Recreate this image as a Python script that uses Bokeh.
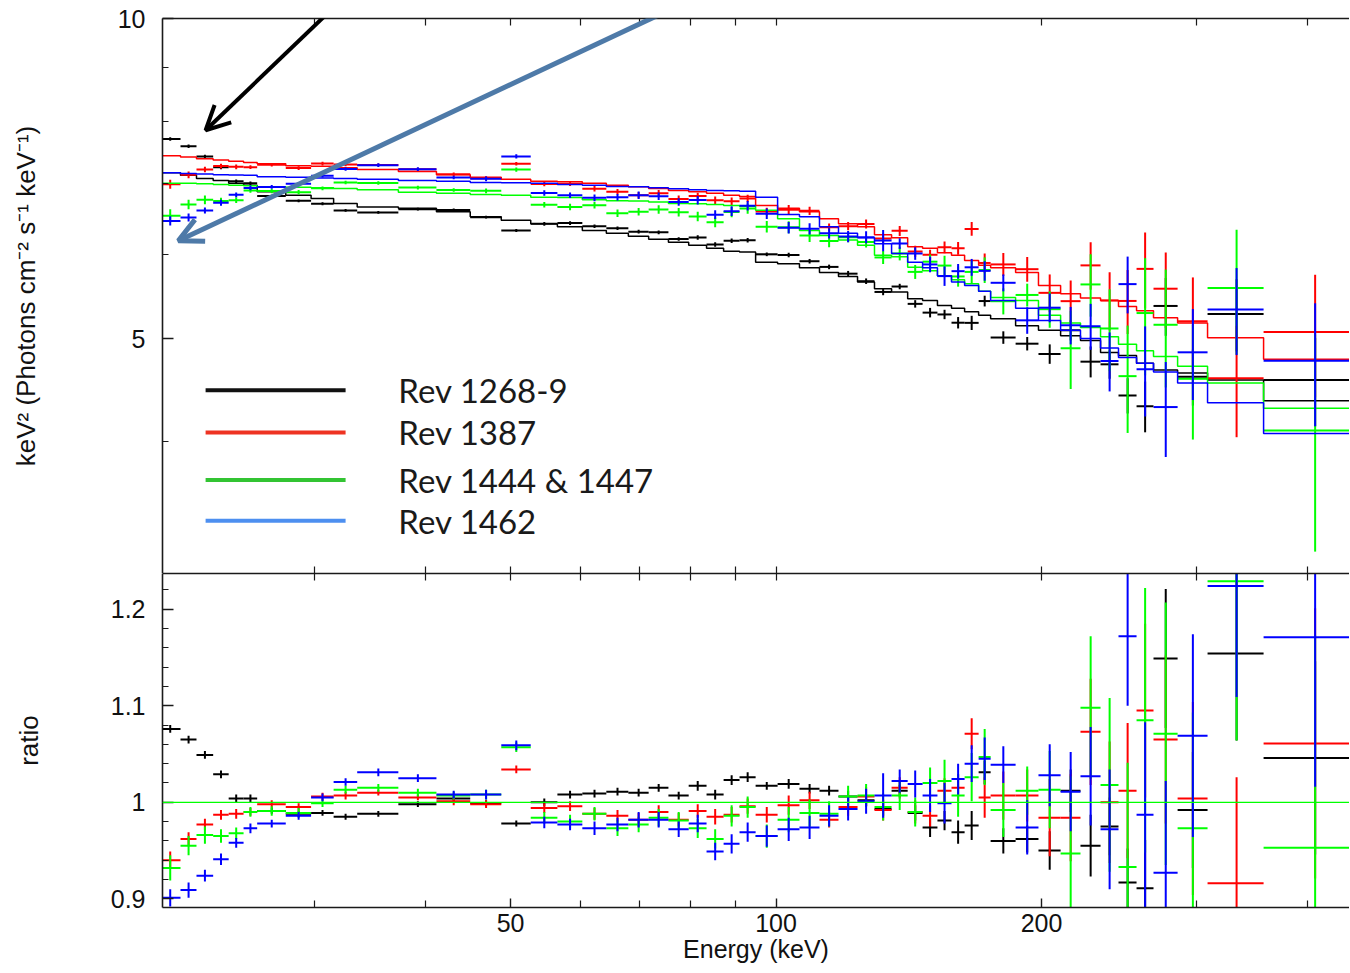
import numpy as np
from bokeh.plotting import figure
from bokeh.layouts import column
from bokeh.models import (Range1d, FixedTicker, LogAxis, LinearAxis, Arrow, OpenHead,
                          Label, Span, ColumnDataSource, BasicTickFormatter)
from bokeh.embed import file_html
from bokeh.resources import INLINE

# ---------------- data ----------------
edges = [20.0, 21.12, 22.02, 23.0, 23.95, 24.9, 25.8, 27.8, 29.7, 31.5, 33.5, 37.3, 41.2,
         45.0, 48.8, 52.7, 56.5, 60.3, 64.2, 68.0, 71.7, 75.5, 79.6, 83.4, 87.2, 90.9,
         94.8, 100.4, 106.3, 112.0, 117.7, 123.7, 129.3, 135.2, 141.0, 146.6, 152.4,
         158.1, 163.6, 169.7, 175.1, 186.9, 198.4, 210.2, 221.4, 233.3, 244.5, 256.3,
         267.9, 285.3, 308.5, 357.1, 460.0]

black_model = [7.16, 7.12, 7.07, 7.04, 7.00, 6.97, 6.87, 6.82, 6.77, 6.70,
               6.65, 6.63, 6.58, 6.51, 6.46, 6.41, 6.37, 6.32, 6.28, 6.24,
               6.20, 6.16, 6.12, 6.08, 6.04, 6.03, 5.90, 5.88, 5.83, 5.77,
               5.72, 5.65, 5.57, 5.53, 5.45, 5.43, 5.37, 5.34, 5.30, 5.26,
               5.22, 5.14, 5.09, 5.03, 4.98, 4.85, 4.82, 4.74, 4.67, 4.64,
               4.57, 4.37]
red_model = [7.43, 7.41, 7.38, 7.36, 7.34, 7.32, 7.30, 7.27, 7.26, 7.24,
             7.21, 7.18, 7.13, 7.09, 7.06, 7.03, 7.02, 7.00, 6.97, 6.945,
             6.92, 6.89, 6.87, 6.85, 6.82, 6.80, 6.67, 6.63, 6.58, 6.48,
             6.41, 6.37, 6.26, 6.22, 6.10, 6.08, 6.02, 5.99, 5.92, 5.86,
             5.83, 5.77, 5.61, 5.51, 5.46, 5.43, 5.36, 5.31, 5.23, 5.17,
             5.01, 4.78]
green_model = [7.00, 7.00, 6.99, 6.98, 6.97, 6.96, 6.945, 6.94, 6.93, 6.92,
               6.90, 6.865, 6.85, 6.83, 6.82, 6.79, 6.785, 6.755, 6.74, 6.735,
               6.72, 6.70, 6.695, 6.685, 6.67, 6.66, 6.60, 6.48, 6.32, 6.25,
               6.19, 6.12, 5.99, 5.97, 5.835, 5.79, 5.73, 5.68, 5.63, 5.54,
               5.465, 5.43, 5.26, 5.17, 5.12, 5.02, 4.94, 4.87, 4.81, 4.71,
               4.54, 4.30]
blue_model = [7.16, 7.15, 7.14, 7.13, 7.125, 7.12, 7.10, 7.09, 7.08, 7.07,
              7.06, 7.04, 7.03, 7.01, 7.005, 7.00, 6.98, 6.97, 6.95, 6.945,
              6.93, 6.915, 6.90, 6.89, 6.885, 6.88, 6.79, 6.54, 6.51, 6.37,
              6.28, 6.22, 6.14, 6.01, 5.90, 5.83, 5.73, 5.65, 5.61, 5.54,
              5.43, 5.34, 5.20, 5.09, 5.00, 4.90, 4.80, 4.74, 4.65, 4.54,
              4.35, 4.07]

black_ratio = [1.076, 1.065, 1.049, 1.029, 1.004, 1.004, 0.991, 0.988, 0.989, 0.985,
               0.988, 0.998, 1.004, 0.999, 0.978, 1.000, 1.008, 1.009, 1.011, 1.010,
               1.015, 1.007, 1.017, 1.008, 1.023, 1.026, 1.017, 1.019, 1.014, 1.012,
               1.006, 1.002, 0.993, 1.012, 0.989, 0.974, 0.981, 0.969, 0.976, 1.031,
               0.960, 0.962, 0.950, 1.012, 0.955, 0.975, 0.917, 0.911, 1.149, 0.992,
               1.154, 1.046]
red_ratio = [0.940, 0.962, 0.977, 0.987, 0.988, 0.990, 0.998, 0.995, 1.006, 1.007,
             1.010, 1.005, 1.001, 0.998, 1.034, 0.994, 0.996, 0.988, 0.986, 0.982,
             0.990, 0.982, 0.991, 0.985, 0.987, 0.996, 0.987, 0.997, 1.002, 0.982,
             0.995, 1.006, 0.992, 1.015, 0.990, 0.986, 1.012, 1.015, 1.071, 1.005,
             1.007, 1.007, 0.984, 0.984, 1.073, 1.000, 1.012, 1.095, 1.065, 1.004,
             0.916, 1.061]
green_ratio = [0.932, 0.955, 0.966, 0.965, 0.968, 0.990, 0.991, 0.989, 0.999, 1.013,
               1.015, 1.010, 1.007, 1.008, 1.057, 0.984, 0.980, 0.988, 0.973, 0.977,
               0.984, 0.981, 0.973, 0.962, 0.986, 0.995, 0.965, 0.982, 0.989, 0.988,
               1.006, 1.007, 0.995, 1.007, 0.990, 1.020, 1.022, 1.007, 1.026, 1.047,
               0.992, 1.012, 1.013, 0.947, 1.098, 1.018, 0.933, 1.085, 1.071, 0.973,
               1.229, 0.953]
blue_ratio = [0.901, 0.909, 0.924, 0.941, 0.958, 0.973, 0.978, 0.986, 1.005, 1.021,
              1.031, 1.025, 1.008, 1.008, 1.059, 0.979, 0.977, 0.973, 0.977, 0.982,
              0.982, 0.972, 0.978, 0.949, 0.957, 0.969, 0.965, 0.972, 0.974, 0.986,
              0.993, 1.001, 1.007, 1.022, 1.019, 1.007, 0.999, 1.024, 1.040, 1.045,
              1.039, 0.974, 1.028, 1.011, 1.027, 0.972, 1.172, 0.987, 0.927, 1.069,
              1.224, 1.171]

black_err = [0.004, 0.004, 0.004, 0.004, 0.004, 0.004, 0.003, 0.003, 0.003, 0.003,
             0.003, 0.003, 0.003, 0.003, 0.003, 0.004, 0.004, 0.004, 0.004, 0.004,
             0.004, 0.004, 0.005, 0.005, 0.005, 0.005, 0.004, 0.005, 0.005, 0.005,
             0.006, 0.006, 0.007, 0.006, 0.008, 0.010, 0.010, 0.012, 0.015, 0.012,
             0.013, 0.014, 0.020, 0.022, 0.032, 0.030, 0.035, 0.050, 0.072, 0.060,
             0.090, 0.100]
red_err = [0.009, 0.007, 0.006, 0.005, 0.005, 0.004, 0.004, 0.004, 0.004, 0.004,
           0.003, 0.003, 0.004, 0.004, 0.004, 0.005, 0.005, 0.006, 0.006, 0.007,
           0.007, 0.007, 0.007, 0.008, 0.008, 0.008, 0.008, 0.010, 0.009, 0.008,
           0.009, 0.010, 0.011, 0.011, 0.012, 0.011, 0.013, 0.014, 0.016, 0.021,
           0.025, 0.027, 0.040, 0.045, 0.055, 0.063, 0.070, 0.090, 0.087, 0.100,
           0.110, 0.140]
green_err = [0.013, 0.010, 0.009, 0.007, 0.006, 0.005, 0.005, 0.005, 0.004, 0.004,
             0.004, 0.004, 0.004, 0.005, 0.005, 0.006, 0.007, 0.007, 0.008, 0.008,
             0.009, 0.009, 0.010, 0.010, 0.011, 0.011, 0.012, 0.013, 0.014, 0.013,
             0.011, 0.012, 0.014, 0.015, 0.015, 0.016, 0.022, 0.022, 0.025, 0.029,
             0.028, 0.025, 0.040, 0.080, 0.074, 0.090, 0.108, 0.137, 0.136, 0.120,
             0.165, 0.220]
blue_err = [0.009, 0.008, 0.006, 0.006, 0.005, 0.005, 0.004, 0.004, 0.004, 0.004,
            0.004, 0.004, 0.004, 0.005, 0.005, 0.006, 0.006, 0.007, 0.007, 0.008,
            0.008, 0.008, 0.009, 0.009, 0.010, 0.010, 0.011, 0.012, 0.012, 0.011,
            0.012, 0.013, 0.023, 0.012, 0.014, 0.017, 0.021, 0.016, 0.019, 0.022,
            0.019, 0.028, 0.032, 0.041, 0.051, 0.062, 0.072, 0.096, 0.095, 0.105,
            0.115, 0.155]

series_names = ["Rev 1268-9", "Rev 1387", "Rev 1444 & 1447", "Rev 1462"]
data_colors = ["#000000", "#ff0000", "#00ff00", "#0000ff"]
legend_colors = ["#111111", "#ee3322", "#33c433", "#4d8ff0"]

x_ticks = [50, 100, 200]
x_minor = [30, 40, 60, 70, 80, 90, 300, 400]
x_all = [30, 40, 50, 60, 70, 80, 90, 100, 200, 300, 400]
top_ticks = [5, 10]
top_minor = [3, 4, 6, 7, 8, 9]
ratio_ticks = [0.9, 1.0, 1.1, 1.2]
ratio_minor = [0.90, 0.92, 0.94, 0.96, 0.98, 1.00, 1.02, 1.04, 1.06, 1.08,
               1.10, 1.12, 1.14, 1.16, 1.18, 1.20, 1.22]

models = [black_model, red_model, green_model, blue_model]
ratios = [black_ratio, red_ratio, green_ratio, blue_ratio]
errs = [black_err, red_err, green_err, blue_err]

# ---------------- style ----------------
FONT = "Liberation Sans"
AX = "#1a1a1a"
XR = Range1d(20.15, 446.9)
FW = 1187


def style_axis(ax, tick_in=11, minor_in=6):
    ax.axis_line_color = AX
    ax.axis_line_width = 1.6
    ax.major_tick_line_color = AX
    ax.minor_tick_line_color = AX
    ax.major_tick_line_width = 1.4
    ax.minor_tick_line_width = 1.2
    ax.major_tick_in = tick_in
    ax.major_tick_out = 0
    ax.minor_tick_in = minor_in
    ax.minor_tick_out = 0
    ax.major_label_text_font = FONT
    ax.major_label_text_color = "#111111"
    ax.major_label_text_font_size = "25px"
    ax.axis_label_text_font = FONT
    ax.axis_label_text_font_style = "normal"
    ax.axis_label_text_color = "#111111"


def plain_xaxis():
    # tick marks only (no labels)
    ax = LogAxis(ticker=FixedTicker(ticks=[], minor_ticks=x_all))
    style_axis(ax, tick_in=7, minor_in=7)
    ax.major_label_standoff = 0
    return ax


# ---------------- top panel ----------------
p1 = figure(frame_width=FW, frame_height=555, x_axis_type="log", y_axis_type="log",
            x_range=XR, y_range=Range1d(3.006, 10.0),
            output_backend="svg", toolbar_location=None,
            x_axis_location=None, y_axis_location=None,
            min_border_left=162, min_border_right=0, min_border_top=18, min_border_bottom=0)
p1.outline_line_color = None
p1.grid.visible = False
p1.background_fill_color = "white"
p1.border_fill_color = "white"

ly = LogAxis(ticker=FixedTicker(ticks=top_ticks, minor_ticks=top_minor),
             formatter=BasicTickFormatter())
ly.major_label_overrides = {5: "5", 10: "10"}
style_axis(ly)
ly.major_label_standoff = 17
ly.axis_label = "keV\u00b2 (Photons cm\u207b\u00b2 s\u207b\u00b9 keV\u207b\u00b9)"
ly.axis_label_text_font_size = "26px"
ly.axis_label_standoff = 74
p1.add_layout(ly, "left")
p1.add_layout(plain_xaxis(), "above")
p1.add_layout(plain_xaxis(), "below")

lo = np.array(edges[:-1])
hi = np.array(edges[1:])
mid = (lo + hi) / 2.0

# ---------------- bottom panel ----------------
p2 = figure(frame_width=FW, frame_height=334, x_axis_type="log",
            x_range=XR, y_range=Range1d(0.891, 1.237),
            output_backend="svg", toolbar_location=None,
            x_axis_location=None, y_axis_location=None,
            min_border_left=162, min_border_right=0, min_border_top=0, min_border_bottom=60)
p2.outline_line_color = None
p2.grid.visible = False
p2.background_fill_color = "white"
p2.border_fill_color = "white"

ry = LinearAxis(ticker=FixedTicker(ticks=ratio_ticks, minor_ticks=ratio_minor))
ry.major_label_overrides = {0.9: "0.9", 1.0: "1", 1.1: "1.1", 1.2: "1.2"}
style_axis(ry)
ry.major_label_standoff = 17
ry.axis_label = "ratio"
ry.axis_label_text_font_size = "26px"
ry.axis_label_standoff = 64
p2.add_layout(ry, "left")
p2.add_layout(plain_xaxis(), "above")
bx = LogAxis(ticker=FixedTicker(ticks=x_ticks, minor_ticks=x_minor),
             formatter=BasicTickFormatter())
bx.major_label_overrides = {50: "50", 100: "100", 200: "200"}
style_axis(bx, tick_in=9, minor_in=7)
bx.major_label_standoff = 6
bx.axis_label = "Energy (keV)"
bx.axis_label_text_font_size = "25px"
bx.axis_label_standoff = 0
p2.add_layout(bx, "below")

for name, col, model, ratio, err in zip(series_names, data_colors, models, ratios, errs):
    m = np.array(model)
    r = np.array(ratio)
    e = np.array(err)
    flux = r * m
    ferr = e * m
    p1.step(x=edges, y=list(model) + [model[-1]], mode="after", line_color=col, line_width=1.5)
    src_top = ColumnDataSource(dict(lo=lo, hi=hi, mid=mid, y=flux, y0=flux - ferr, y1=flux + ferr))
    p1.segment(x0="lo", x1="hi", y0="y", y1="y", source=src_top, line_color=col, line_width=2)
    p1.segment(x0="mid", x1="mid", y0="y0", y1="y1", source=src_top, line_color=col, line_width=2)
    src_bot = ColumnDataSource(dict(lo=lo, hi=hi, mid=mid, y=r, y0=r - e, y1=r + e))
    p2.segment(x0="lo", x1="hi", y0="y", y1="y", source=src_bot, line_color=col, line_width=2)
    p2.segment(x0="mid", x1="mid", y0="y0", y1="y1", source=src_bot, line_color=col, line_width=2)

p2.add_layout(Span(location=1.0, dimension="width", line_color="#00ff00", line_width=1.3))

# legend (drawn inside top panel)
leg_x0, leg_x1, leg_tx = 22.55, 32.5, 37.3
leg_y = [4.47, 4.08, 3.68, 3.37]
for name, col, yy in zip(series_names, legend_colors, leg_y):
    p1.line(x=[leg_x0, leg_x1], y=[yy, yy], line_color=col, line_width=4)
    p1.add_layout(Label(x=leg_tx, y=yy, text=name, text_font="Lato",
                        text_font_size="33px", text_color="#1a1a1a",
                        text_baseline="middle", text_align="left"))

# arrows
p1.add_layout(Arrow(x_start=81.0, y_start=10.46, x_end=21.0, y_end=6.18,
                    line_color="#4e7aa8", line_width=5,
                    end=OpenHead(size=24, line_color="#4e7aa8", line_width=5)))
p1.add_layout(Arrow(x_start=32.5, y_start=10.5, x_end=22.55, y_end=7.85,
                    line_color="#000000", line_width=4,
                    end=OpenHead(size=24, line_color="#000000", line_width=4)))

layout = column(p1, p2, spacing=0)
open("out.html", "w").write(file_html(layout, INLINE))
